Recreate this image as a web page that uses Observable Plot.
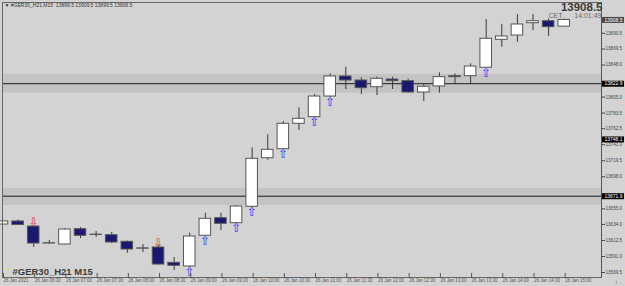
<!DOCTYPE html>
<html>
<head>
<meta charset="utf-8">
<script src="https://cdn.jsdelivr.net/npm/d3@7"></script>
<script src="https://cdn.jsdelivr.net/npm/@observablehq/plot@0.6"></script>
<style>
html,body{margin:0;padding:0;background:#d3d3d3;overflow:hidden;}
svg{display:block;}
</style>
</head>
<body>
<div id="chart"></div>
<script>
const times = ["06:00","06:15","06:30","06:45","07:00","07:15","07:30","07:45","08:00","08:15","08:30","08:45","09:00","09:15","09:30","09:45","10:00","10:15","10:30","10:45","11:00","11:15","11:30","11:45","12:00","12:15","12:30","12:45","13:00","13:15","13:30","13:45","14:00","14:15","14:30","14:45","15:00"];
const open  = [13633.9,13638.0,13631.2,13608.4,13607.1,13627.6,13620.3,13619.6,13610.7,13601.9,13603.1,13582.5,13577.6,13618.8,13642.4,13635.7,13657.7,13722.9,13735.0,13769.1,13778.0,13805.7,13832.6,13827.2,13818.2,13828.5,13826.3,13811.1,13819.2,13833.0,13833.0,13844.3,13881.8,13887.6,13904.1,13906.8,13899.5];
const high  = [13639.3,13640.0,13632.6,13612.5,13628.6,13629.9,13624.5,13623.2,13611.8,13607.1,13605.7,13589.6,13622.3,13649.1,13649.1,13659.4,13736.9,13754.3,13772.2,13790.6,13808.4,13836.2,13845.1,13830.8,13831.7,13831.7,13829.0,13821.5,13837.5,13836.2,13849.6,13909.1,13902.4,13915.8,13915.8,13909.8,13909.5];
const low   = [13632.6,13632.6,13603.1,13607.1,13606.4,13615.1,13616.5,13608.4,13595.4,13596.3,13579.6,13572.2,13576.2,13617.8,13625.9,13635.3,13656.7,13720.2,13734.6,13760.1,13777.6,13804.4,13815.1,13808.4,13807.1,13815.1,13810.4,13799.0,13810.2,13822.8,13822.8,13844.0,13871.9,13878.6,13894.3,13886.3,13899.5];
const close = [13638.0,13633.3,13608.4,13608.9,13627.2,13618.8,13619.9,13609.8,13600.4,13601.5,13580.2,13578.5,13617.8,13641.6,13634.9,13658.1,13722.1,13734.2,13769.1,13775.8,13805.7,13832.6,13827.2,13816.9,13829.5,13826.3,13811.1,13818.8,13831.7,13831.7,13846.0,13883.2,13886.3,13902.4,13906.8,13898.8,13908.5];

const upArrowIdx = [12,13,15,16,18,20,21,31];
const downArrowIdx = [2,10];

const xTickIdx = [0,2,4,6,8,10,12,14,16,18,20,22,24,26,28,30,32,34,36];
const xTickLabels = ["26 Jan 2021","26 Jan 06:30","26 Jan 07:00","26 Jan 07:30","26 Jan 08:00","26 Jan 08:30","26 Jan 09:00","26 Jan 09:30","26 Jan 10:00","26 Jan 10:30","26 Jan 11:00","26 Jan 11:30","26 Jan 12:00","26 Jan 12:30","26 Jan 13:00","26 Jan 13:30","26 Jan 14:00","26 Jan 14:30","26 Jan 15:00"];
const yTicks = [13569.5,13591.0,13612.5,13634.0,13655.0,13698.0,13719.5,13741.0,13762.5,13783.5,13805.0,13848.0,13869.5,13890.5];

const levelValues = [13822.9,13671.9];
const bandLow  = [13810.2,13659.4];
const bandHigh = [13835.3,13682.3];
const priceLabels = [13908.5,13822.9,13748.1,13671.9];
const priceLabelFill = ["#4a4a4a","#000","#000","#000"];

const symbolTitle = "#GER30_H21 M15";
const headerText = "\u25BC #GER30_H21,M15  13899.5 13909.5 13899.5 13908.5";
const lastPrice = "13908.5";
const clockZone = "CET";
const clockTime = "14:01:49";

const candles = times.map((t,i)=>({i,t,o:open[i],h:high[i],l:low[i],c:close[i]}));
const bands = bandLow.map((lo,k)=>({lo,hi:bandHigh[k]}));
const xMax = 38.39;
const half = 0.37;
const sans = "'Liberation Sans', Arial, sans-serif";

const chart = Plot.plot({
  width: 625, height: 286,
  marginLeft: 2, marginRight: 24, marginTop: 2, marginBottom: 9,
  x: {domain: [0, xMax]},
  y: {domain: [13562.8, 13931.9]},
  style: {background: "#d3d3d3", fontFamily: sans, overflow: "visible"},
  marks: [
    Plot.rect(bands, {y1: "lo", y2: "hi", fill: "#c3c3c3"}),
    Plot.ruleY(levelValues, {stroke: "#1a1a1a", strokeWidth: 1}),
    Plot.ruleX(candles, {x: "i", y1: "l", y2: "h", stroke: "#3a3a3a", strokeWidth: 1}),
    Plot.rect(candles, {x1: d=>d.i-half, x2: d=>d.i+half, y1: "o", y2: "c",
      fill: d=>d.c>=d.o ? "#ffffff" : "#191970", stroke: "#555", strokeWidth: 1}),
    Plot.text(upArrowIdx, {x: d=>d, y: d=>low[d], text: ()=>"\u21E7", lineAnchor: "top", dy: 0,
      fill: "#2a2aff", fontSize: 12, fontFamily: "'DejaVu Sans', sans-serif"}),
    Plot.text(downArrowIdx, {x: d=>d, y: d=>high[d], text: ()=>"\u21E9", lineAnchor: "bottom", dy: 1,
      fill: "#e03a3a", fontSize: 12, fontFamily: "'DejaVu Sans', sans-serif"}),
    Plot.frame({stroke: "#666"}),
    Plot.ruleX([xMax], {stroke: "#555"}),
    Plot.axisY({anchor: "right", ticks: yTicks, tickFormat: d=>d.toFixed(1), tickSize: 3, tickPadding: 1,
      fontSize: 4.6, color: "#444"}),
    Plot.axisX({ticks: xTickIdx, tickFormat: d=>xTickLabels[d/2], tickSize: 5, tickPadding: 0,
      textAnchor: "start", dx: 1, dy: -4, fontSize: 4.5, color: "#555"}),
    Plot.ruleY(priceLabels, {x1: xMax, x2: xMax, insetLeft: 1, insetRight: -23,
      stroke: (d,i)=>priceLabelFill[i], strokeWidth: 6}),
    Plot.text(priceLabels, {y: d=>d, frameAnchor: "right", dx: 12, text: d=>d.toFixed(1),
      fill: "#fff", fontSize: 5, textAnchor: "middle"}),
    Plot.text([lastPrice], {frameAnchor: "top-right", text: d=>d, dx: 1, dy: 0, lineAnchor: "top",
      fontSize: 11.5, fontWeight: "bold", fill: "#3a3a3a"}),
    Plot.text([clockZone], {frameAnchor: "top-right", text: d=>d, dx: -39, dy: 11, lineAnchor: "top",
      fontSize: 7, fill: "#6a6a6a"}),
    Plot.text([clockTime], {frameAnchor: "top-right", text: d=>d, dx: 0, dy: 11, lineAnchor: "top",
      fontSize: 7, fill: "#6a6a6a"}),
    Plot.text([headerText], {frameAnchor: "top-left", text: d=>d, dx: 2, dy: 1, lineAnchor: "top",
      fontSize: 5, fill: "#333"}),
    Plot.text(["\u2022"], {frameAnchor: "bottom-left", text: d=>d, dx: 5, dy: -7, lineAnchor: "bottom",
      fontSize: 6, fill: "#e8d200"}),
    Plot.text([symbolTitle], {frameAnchor: "bottom-left", text: d=>d, dx: 10, dy: -3, lineAnchor: "bottom",
      fontSize: 9.5, fontWeight: "bold", fill: "#3c3c3c"})
  ]
});
document.getElementById("chart").appendChild(chart);
</script>
</body>
</html>
